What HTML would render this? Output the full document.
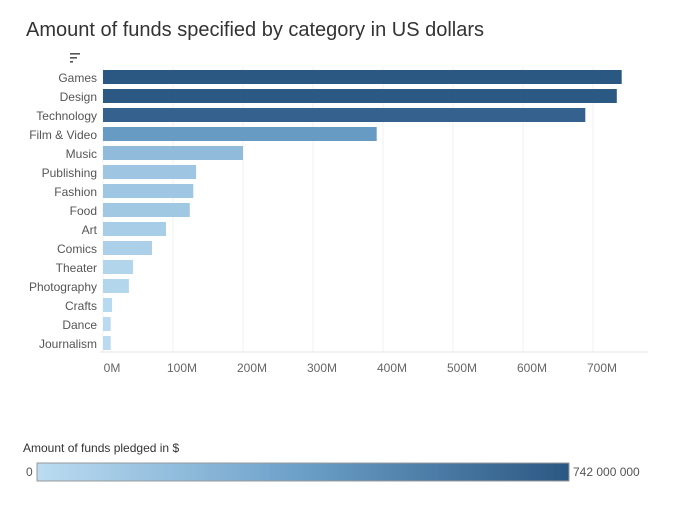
<!DOCTYPE html>
<html><head><meta charset="utf-8"><style>
body{margin:0;background:#fff;font-family:"Liberation Sans",sans-serif}
</style></head><body>
<svg width="687" height="507" xmlns="http://www.w3.org/2000/svg">
<text x="26" y="36" font-size="20" fill="#333">Amount of funds specified by category in US dollars</text>
<g fill="#555">
<rect x="70" y="53" width="10" height="1.6"/><rect x="70" y="57" width="7" height="1.6"/><rect x="70" y="61" width="3" height="1.6"/></g>
<g id="grid"></g><g id="bars"></g><g id="labels"></g><g id="ticks"></g>
<line x1="100" y1="352" x2="648" y2="352" stroke="#e6e6e6"/>
<text x="23" y="452" font-size="12" fill="#333">Amount of funds pledged in $</text>
<defs><linearGradient id="lg"><stop offset="0" stop-color="#bbdcf1"/><stop offset="0.5" stop-color="#6b9fc8"/><stop offset="1" stop-color="#2b5783"/></linearGradient></defs>
<rect x="37" y="463" width="532" height="18" fill="url(#lg)" stroke="#999"/>
<text x="26" y="476" font-size="12" fill="#555">0</text>
<text x="573" y="476" font-size="12" fill="#555">742 000 000</text>
</svg>
<script>
const categories=["Games","Design","Technology","Film & Video","Music","Publishing","Fashion","Food","Art","Comics","Theater","Photography","Crafts","Dance","Journalism"];
const values=[741,734,689,391,200,133,129,124,90,70,43,37,13,11,11];
const ticks=[0,100,200,300,400,500,600,700];
const tickLabels=["0M","100M","200M","300M","400M","500M","600M","700M"];
const maxV=742;
const ns="http://www.w3.org/2000/svg";
const x=v=>103+v*0.7;
const y=i=>70+i*19;
function mk(t,a,p){const e=document.createElementNS(ns,t);for(const k in a)e.setAttribute(k,a[k]);p.appendChild(e);return e;}
function col(v){let t=v/maxV;const a=[187,220,241],m=[107,159,200],b=[43,87,131];let s,e;
 if(t<0.5){s=a;e=m;t=t*2;}else{s=m;e=b;t=(t-0.5)*2;}
 return "rgb("+s.map((c,i)=>Math.round(c+(e[i]-c)*t)).join(",")+")";}
const G=document.getElementById("grid"),B=document.getElementById("bars"),L=document.getElementById("labels"),T=document.getElementById("ticks");
ticks.forEach((t,i)=>{
 const g=mk("line",{x1:x(t),x2:x(t),y1:67,y2:352,stroke:"#f0f0f0"},G);
 
 
 const tx=mk("text",{x:x(t)+9,y:372,"font-size":12,fill:"#666","text-anchor":"middle"},T);
 tx.textContent=tickLabels[i];
 
 
});
categories.forEach((c,i)=>{
 const r=mk("rect",{x:x(0),y:y(i),width:x(values[i])-x(0),height:14,fill:col(values[i])},B);
 
 
 const t=mk("text",{x:97,y:y(i)+12,"font-size":12,fill:"#555","text-anchor":"end"},L);
 t.textContent=c;
 
 
});
</script>
</body></html>
